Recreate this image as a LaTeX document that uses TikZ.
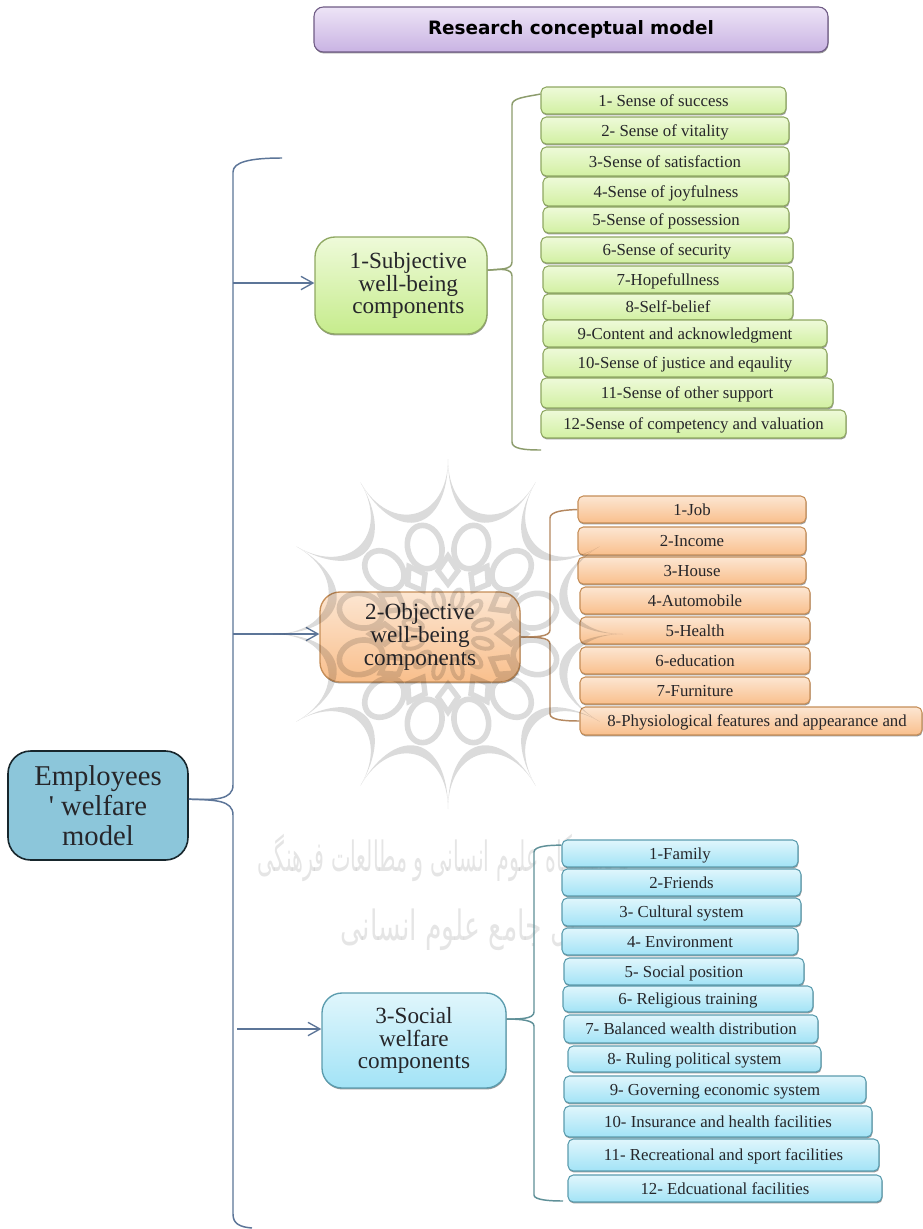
\documentclass[tikz,border=0pt]{standalone}
\usepackage{fontspec}
\setmainfont{Liberation Serif}
\newfontfamily\rawserif{Liberation Serif}
\newfontfamily\titlefont{DejaVu Sans}
\newfontfamily\arabicfont[Script=Arabic]{DejaVu Sans}
\TeXXeTstate=1
\usetikzlibrary{arrows.meta,shadows}
\definecolor{gStroke}{HTML}{8FA862}
\definecolor{gTop}{HTML}{EEFAD9}
\definecolor{gBot}{HTML}{C6EC8C}
\definecolor{gLeaf}{HTML}{D2F0A2}
\definecolor{oStroke}{HTML}{C68E58}
\definecolor{oTop}{HTML}{FCE6D2}
\definecolor{oBot}{HTML}{F9BF8C}
\definecolor{bStroke}{HTML}{5B9CAE}
\definecolor{bTop}{HTML}{E0F6FC}
\definecolor{bBot}{HTML}{A2E3F6}
\definecolor{pStroke}{HTML}{6F5B85}
\definecolor{pTop}{HTML}{EDE4F6}
\definecolor{pBot}{HTML}{C9B3E3}
\definecolor{mainFill}{HTML}{8CC6DA}
\definecolor{mainStroke}{HTML}{17262C}
\definecolor{lnMain}{HTML}{5C7598}
\definecolor{lnGreen}{HTML}{8C9C6C}
\definecolor{lnOrange}{HTML}{B58860}
\definecolor{lnTeal}{HTML}{5F9098}
\definecolor{txt}{HTML}{26262A}
\tikzset{
  x=0.75pt,y=-0.75pt,
  boxbase/.style={rectangle,inner sep=0pt,line width=0.8pt,text=txt,align=center,
    drop shadow={shadow xshift=0.4pt,shadow yshift=-1.1pt,opacity=.4,fill=black}},
  leaf/.style={boxbase,rounded corners=4pt,font=\fontsize{12.6}{14}\selectfont},
  gleaf/.style={leaf,draw=gStroke,top color=gTop,bottom color=gLeaf},
  oleaf/.style={leaf,draw=oStroke,top color=oTop,bottom color=oBot},
  bleaf/.style={leaf,draw=bStroke,top color=bTop,bottom color=bBot},
  branch/.style={boxbase,rounded corners=15pt,line width=1pt,font=\fontsize{17.4}{17}\selectfont},
  gbranch/.style={branch,draw=gStroke,top color=gTop,bottom color=gBot},
  obranch/.style={branch,draw=oStroke,top color=oTop,bottom color=oBot},
  bbranch/.style={branch,draw=bStroke,top color=bTop,bottom color=bBot},
  rootbox/.style={rectangle,inner sep=0pt,align=center,rounded corners=17pt,draw=mainStroke,line width=1.2pt,fill=mainFill,text=txt,font=\fontsize{21.5}{22.3}\selectfont},
  titlebox/.style={boxbase,rounded corners=7pt,draw=pStroke,top color=pTop,bottom color=pBot,text=black,font=\titlefont\bfseries\fontsize{13.8}{16}\selectfont},
  mainline/.style={draw=lnMain,line width=1.1pt},
  openarrow/.style={-{Straight Barb[length=9pt,width=10pt,line width=1pt]}},
  wmark/.style={fill=black,draw=none},
  wline/.style={draw=black,line width=4pt},
  wwords/.style={opacity=.1,font=\arabicfont\fontsize{25}{28}\selectfont}
}
\newcommand{\bx}[7]{%
  \pgfmathsetmacro\bw{(#4-#2)*0.75}\pgfmathsetmacro\bh{(#5-#3)*0.75}%
  \node[#6,minimum width=\bw pt,minimum height=\bh pt] (#1) at ({(#2+#4)/2},{(#3+#5)/2}) {#7};}
\newcommand{\lf}[7]{\bx{#1}{#2}{#3}{#4}{#5}{#6}{\raisebox{-1.3pt}[0.75em][0.25em]{#7}}}
\begin{document}
\begin{tikzpicture}
\useasboundingbox[fill=white] (0,0) rectangle (922,1229);
% watermark words, under the boxes
\node[wwords,xscale=.62,yscale=1.25] (wm1) at (444,858) {\beginR پژوهشگاه علوم انسانی و مطالعات فرهنگی\endR};
\node[wwords,xscale=.8,yscale=1.25] (wm2) at (474,930) {\beginR پرتال جامع علوم انسانی\endR};
% title
\bx{title}{314}{7}{828}{52}{titlebox}{Research conceptual model}
% root and branches
\bx{root}{8}{751}{188}{860}{rootbox}{Employees\\{\rawserif '} welfare\\model}
\bx{subj}{315}{237}{487}{334}{gbranch}{\hspace{11pt}1-Subjective\\\hspace{11pt}well-being\\\hspace{11pt}components}
\bx{obj}{320}{592}{520}{682}{obranch}{2-Objective\\well-being\\components}
\bx{soc}{322}{993}{506}{1088}{bbranch}{3-Social\\welfare\\components}
% green leaves
\lf{s1}{541}{87}{786}{114}{gleaf}{1- Sense of success}
\lf{s2}{541}{117}{789}{144}{gleaf}{2- Sense of vitality}
\lf{s3}{541}{147}{789}{176}{gleaf}{3-Sense of satisfaction}
\lf{s4}{543}{177}{789}{206}{gleaf}{4-Sense of joyfulness}
\lf{s5}{543}{207}{789}{233}{gleaf}{5-Sense of possession}
\lf{s6}{541}{237}{793}{263}{gleaf}{6-Sense of security}
\lf{s7}{543}{266}{793}{293}{gleaf}{7-Hopefullness}
\lf{s8}{543}{294}{793}{320}{gleaf}{8-Self-belief}
\lf{s9}{543}{320}{827}{347}{gleaf}{9-Content and acknowledgment}
\lf{s10}{543}{348}{827}{377}{gleaf}{10-Sense of justice and eqaulity}
\lf{s11}{541}{378}{833}{408}{gleaf}{11-Sense of other support}
\lf{s12}{541}{410}{846}{438}{gleaf}{12-Sense of competency and valuation}
% orange leaves
\lf{o1}{578}{496}{806}{523}{oleaf}{1-Job}
\lf{o2}{578}{527}{806}{555}{oleaf}{2-Income}
\lf{o3}{578}{557}{806}{584}{oleaf}{3-House}
\lf{o4}{580}{587}{810}{614}{oleaf}{4-Automobile}
\lf{o5}{580}{617}{810}{644}{oleaf}{5-Health}
\lf{o6}{580}{647}{810}{674}{oleaf}{6-education}
\lf{o7}{580}{677}{810}{704}{oleaf}{7-Furniture}
\lf{o8}{580}{707}{922}{735}{oleaf}{\hspace{9pt}8-Physiological features and appearance and}
% blue leaves
\lf{b1}{562}{840}{798}{867}{bleaf}{1-Family}
\lf{b2}{562}{869}{801}{896}{bleaf}{2-Friends}
\lf{b3}{562}{898}{801}{926}{bleaf}{3- Cultural system}
\lf{b4}{562}{928}{798}{955}{bleaf}{4- Environment}
\lf{b5}{564}{958}{804}{985}{bleaf}{5- Social position}
\lf{b6}{563}{986}{813}{1012}{bleaf}{6- Religious training}
\lf{b7}{564}{1015}{818}{1043}{bleaf}{7- Balanced wealth distribution}
\lf{b8}{568}{1046}{821}{1072}{bleaf}{8- Ruling political system}
\lf{b9}{564}{1076}{866}{1103}{bleaf}{9- Governing economic system}
\lf{b10}{564}{1106}{872}{1137}{bleaf}{10- Insurance and health facilities}
\lf{b11}{568}{1139}{879}{1171}{bleaf}{11- Recreational and sport facilities}
\lf{b12}{568}{1175}{882}{1202}{bleaf}{12- Edcuational facilities}
% free ends
\coordinate (mtop) at (282,158);
\coordinate (mbot) at (252,1228);
\coordinate (a1) at (233,283);
\coordinate (a2) at (233,634);
\coordinate (a3) at (237,1029);
\coordinate (send) at (541,450);
\coordinate (bend) at (563,1201);
% main bracket
\draw[mainline] (root.4) .. controls (215,800) and (233,800) .. (233,785) -- (233,172) .. controls (233,162) and (250,158) .. (mtop);
\draw[mainline] (root.4) .. controls (215,800) and (233,800) .. (233,815) -- (233,1214) .. controls (233,1224) and (240,1227) .. (mbot);
\draw[mainline,openarrow] (a1) -- (a1 -| subj.west);
\draw[mainline,openarrow] (a2) -- (a2 -| obj.west);
\draw[mainline,openarrow] (a3) -- (a3 -| soc.west);
% branch brackets
\draw[lnGreen,line width=1.1pt] (subj.10) .. controls (500,269) and (512,270) .. (512,262) -- (512,105) .. controls (512,98) and (525,97) .. (s1.177);
\draw[lnGreen,line width=1.1pt] (subj.10) .. controls (500,269) and (512,268) .. (512,276) -- (512,442) .. controls (512,449) and (525,450) .. (send);
\draw[lnOrange,line width=1.1pt] (obj.east) .. controls (535,637) and (550,637) .. (550,630) -- (550,518) .. controls (550,511) and (565,510) .. (o1.west);
\draw[lnOrange,line width=1.1pt] (obj.east) .. controls (535,637) and (550,637) .. (550,644) -- (550,714) .. controls (550,720) and (565,721) .. (o8.west);
\draw[lnTeal,line width=1.1pt] (soc.13) .. controls (520,1019) and (534,1019) .. (534,1012) -- (534,852) .. controls (534,846) and (550,845) .. (b1.176);
\draw[lnTeal,line width=1.1pt] (soc.13) .. controls (520,1019) and (534,1020) .. (534,1026) -- (534,1195) .. controls (534,1200) and (550,1201) .. (bend);
% watermark ornament, over the boxes
\begin{scope}[shift={(448,634)},transparency group,opacity=.14]
  \foreach \a in {0,30,...,330}{
    \fill[wmark] (\a:175) .. controls (\a:114) and (\a+30:114) .. (\a+30:175)
                 .. controls (\a+30:102) and (\a:102) .. (\a:175) -- cycle;
    \begin{scope}[rotate=\a+15]
      \draw[wline,line width=4.2pt] (90,0) ellipse [x radius=22,y radius=17];
    \end{scope}
    \draw[wline] (\a:78) -- (\a+9:64) -- (\a:50) -- (\a-9:64) -- cycle;
    \begin{scope}[rotate=\a+15]
      \draw[wline,line width=3pt] (36,0) ellipse [x radius=10,y radius=5];
    \end{scope}
  }
\end{scope}
\end{tikzpicture}
\end{document}
